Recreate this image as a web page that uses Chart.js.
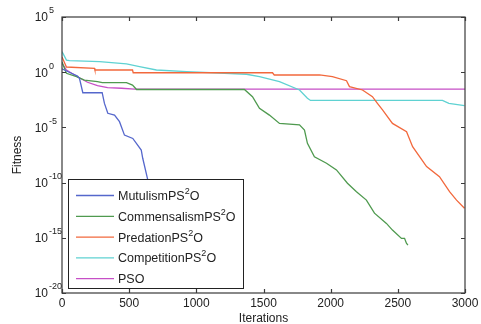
<!DOCTYPE html>
<html>
<head>
<meta charset="utf-8">
<script src="https://cdn.jsdelivr.net/npm/chart.js@4.4.1/dist/chart.umd.min.js"></script>
<style>
html,body{margin:0;padding:0;background:#fff;}
canvas{display:block;}
</style>
</head>
<body>
<canvas id="c" width="481" height="324"></canvas>
<script>
// ---- Data ----
const seriesNames = ["MutulismPS²O", "CommensalismPS²O", "PredationPS²O", "CompetitionPS²O", "PSO"];
const seriesColors = ["#5567cc", "#4f9a4f", "#f2683c", "#5fd2d2", "#c64fc6"];

const mutIter = [0, 50, 115, 130, 155, 299, 316, 341, 391, 428, 465, 527, 590, 601, 639, 680, 720];
const mutFit  = [2.0, 1.05, 0.46, 0.28, 0.0138, 0.0138, 1.5e-3, 1.9e-4, 1.3e-4, 3.3e-5, 2.0e-6, 1.0e-6, 8.9e-8, 1.6e-8, 1.7e-10, 1e-12, 1e-14];

const comIter = [0, 33, 108, 167, 264, 300, 480, 525, 555, 1358, 1418, 1470, 1544, 1619, 1768, 1805, 1827, 1879, 1969, 2043, 2125, 2192, 2266, 2326, 2415, 2460, 2527, 2550, 2564, 2575];
const comFit  = [8.3, 0.79, 0.39, 0.195, 0.138, 0.112, 0.112, 0.069, 0.027, 0.027, 0.006, 5.4e-4, 1.3e-4, 2.3e-5, 1.7e-5, 5.8e-6, 3.6e-7, 2.2e-8, 5.6e-9, 1.4e-9, 8.7e-11, 1.5e-11, 2.6e-12, 1.7e-13, 2.0e-14, 5.0e-15, 8.9e-16, 8.9e-16, 3.2e-16, 2.2e-16];

const preIter = [0, 33, 242, 245, 525, 530, 1567, 1580, 1917, 2013, 2118, 2140, 2237, 2311, 2348, 2386, 2460, 2565, 2610, 2662, 2714, 2810, 2885, 2937, 2996];
const preFit  = [24, 2.95, 2.24, 1.58, 1.58, 0.89, 0.89, 0.56, 0.56, 0.39, 0.17, 0.049, 0.0245, 0.006, 1.51e-3, 3.8e-4, 2.3e-5, 4.1e-6, 1.8e-7, 2.2e-8, 2.8e-9, 3.4e-10, 1.5e-11, 2.6e-12, 4.7e-13];

const cptIter = [0, 33, 56, 280, 480, 577, 703, 927, 1373, 1470, 1619, 1768, 1827, 1850, 2832, 2880, 2996];
const cptFit  = [72.4, 12.6, 11.2, 8.9, 5.6, 3.16, 1.58, 1.12, 0.65, 0.39, 0.138, 0.0245, 4.37e-3, 2.75e-3, 2.75e-3, 1.51e-3, 9.3e-4];

const psoIter = [0, 33, 115, 190, 264, 339, 443, 540, 3000];
const psoFit  = [6.8, 1.58, 0.39, 0.123, 0.06, 0.04, 0.035, 0.029, 0.029];

const xTickValues = [0, 500, 1000, 1500, 2000, 2500, 3000];
const yTickExponents = [5, 0, -5, -10, -15, -20];
const xTitle = "Iterations";
const yTitle = "Fitness";

const iters = [mutIter, comIter, preIter, cptIter, psoIter];
const fits = [mutFit, comFit, preFit, cptFit, psoFit];

const FONT = "'Liberation Sans', Arial, sans-serif";

const datasets = seriesNames.map((name, k) => ({
  label: name,
  data: iters[k].map((x, i) => ({x: x, y: fits[k][i]})),
  borderColor: seriesColors[k],
  backgroundColor: seriesColors[k],
  borderWidth: 1.3,
  pointRadius: 0,
  tension: 0,
  fill: false
}));

function drawRich(ctx, text, x, y, size) {
  // draws text, rendering "²" as a superscript "2"
  const parts = text.split("²");
  let cx = x;
  for (let i = 0; i < parts.length; i++) {
    ctx.font = size + "px " + FONT;
    ctx.textBaseline = "middle";
    ctx.textAlign = "left";
    ctx.fillText(parts[i], cx, y);
    cx += ctx.measureText(parts[i]).width;
    if (i < parts.length - 1) {
      ctx.font = Math.round(size * 0.72) + "px " + FONT;
      ctx.fillText("2", cx, y - 5);
      cx += ctx.measureText("2").width;
    }
  }
}

const framePlugin = {
  id: "frame",
  afterDraw(chart) {
    const ctx = chart.ctx;
    const a = chart.chartArea;
    const xs = chart.scales.x, ys = chart.scales.y;
    ctx.save();
    // frame
    ctx.strokeStyle = "#3a3a3a";
    ctx.lineWidth = 1.2;
    ctx.strokeRect(a.left, a.top, a.right - a.left, a.bottom - a.top);
    // ticks (inward, all sides)
    const tl = 4;
    ctx.beginPath();
    xTickValues.forEach(v => {
      const px = Math.round(xs.getPixelForValue(v)) + 0.5;
      ctx.moveTo(px, a.bottom); ctx.lineTo(px, a.bottom - tl);
      ctx.moveTo(px, a.top); ctx.lineTo(px, a.top + tl);
    });
    yTickExponents.forEach(e => {
      const py = Math.round(ys.getPixelForValue(Math.pow(10, e))) + 0.5;
      ctx.moveTo(a.left, py); ctx.lineTo(a.left + tl, py);
      ctx.moveTo(a.right, py); ctx.lineTo(a.right - tl, py);
    });
    ctx.stroke();
    // x tick labels
    ctx.fillStyle = "#222";
    ctx.font = "12px " + FONT;
    ctx.textAlign = "center";
    ctx.textBaseline = "middle";
    xTickValues.forEach(v => {
      ctx.fillText(String(v), xs.getPixelForValue(v), a.bottom + 11);
    });
    // y tick labels: 10^e
    yTickExponents.forEach(e => {
      const py = ys.getPixelForValue(Math.pow(10, e));
      ctx.font = "12px " + FONT;
      ctx.textAlign = "right";
      ctx.textBaseline = "middle";
      ctx.fillText("10", 48, py + 1);
      ctx.font = "9px " + FONT;
      ctx.textAlign = "left";
      ctx.fillText(String(e), 49, py - 6);
    });
    // axis titles
    ctx.font = "12px " + FONT;
    ctx.textAlign = "center";
    ctx.textBaseline = "middle";
    ctx.fillText(xTitle, (a.left + a.right) / 2, 319);
    ctx.save();
    ctx.translate(18, (a.top + a.bottom) / 2);
    ctx.rotate(-Math.PI / 2);
    ctx.fillText(yTitle, 0, 0);
    ctx.restore();
    // legend box
    const lx = 68.5, ly = 179.5, lw = 175, lh = 109;
    ctx.fillStyle = "#fff";
    ctx.fillRect(lx, ly, lw, lh);
    ctx.strokeStyle = "#222";
    ctx.lineWidth = 1;
    ctx.strokeRect(lx, ly, lw, lh);
    chart.data.datasets.forEach((ds, i) => {
      const y = 195.5 + i * 20.8;
      ctx.strokeStyle = ds.borderColor;
      ctx.lineWidth = 1.3;
      ctx.beginPath();
      ctx.moveTo(76, y); ctx.lineTo(114, y);
      ctx.stroke();
      ctx.fillStyle = "#222";
      drawRich(ctx, ds.label, 118, y + 1, 12.5);
    });
    ctx.restore();
  }
};

new Chart(document.getElementById("c"), {
  type: "line",
  data: { datasets: datasets },
  options: {
    responsive: false,
    animation: false,
    layout: { padding: { top: 17, right: 16, left: 0, bottom: 0 } },
    plugins: { legend: { display: false }, tooltip: { enabled: false } },
    scales: {
      x: {
        type: "linear",
        min: 0, max: 3000,
        grid: { display: false },
        border: { display: false },
        ticks: { display: false, stepSize: 500 },
        afterFit(s) { s.height = 31; }
      },
      y: {
        type: "logarithmic",
        min: 1e-20, max: 1e5,
        grid: { display: false },
        border: { display: false },
        ticks: { display: false },
        afterBuildTicks(s) { s.ticks = yTickExponents.map(e => ({ value: Math.pow(10, e) })); },
        afterFit(s) { s.width = 62; }
      }
    }
  },
  plugins: [framePlugin]
});
</script>
</body>
</html>
